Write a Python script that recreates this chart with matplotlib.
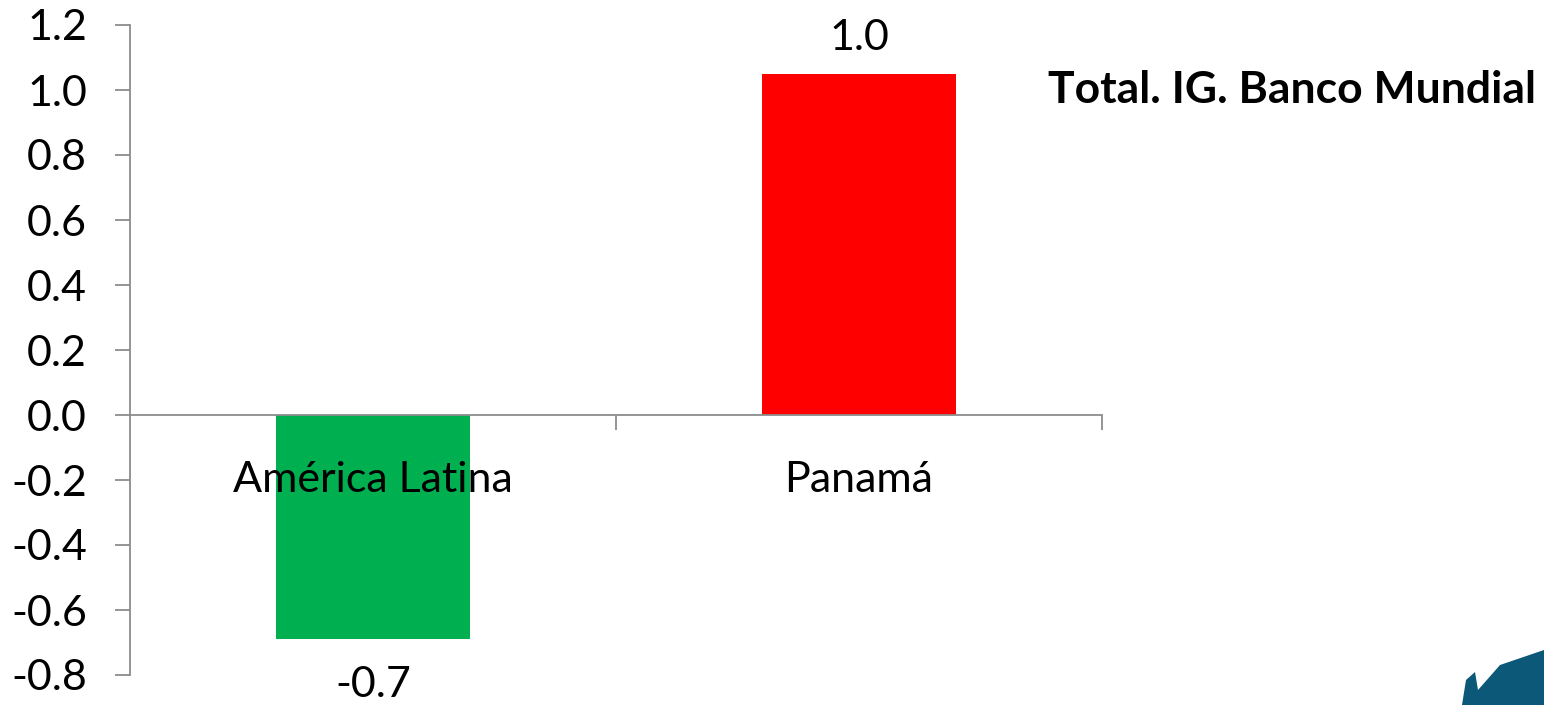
import matplotlib.pyplot as plt
from matplotlib.patches import Polygon

# data
categories = ['América Latina', 'Panamá']
values = [-0.69, 1.05]
value_labels = ['-0.7', '1.0']
colors = ['#00b050', '#ff0000']
title = 'Total. IG. Banco Mundial'

plt.rcParams['font.family'] = ['Lato', 'DejaVu Sans']

fig = plt.figure(figsize=(15.44, 7.05), dpi=100)
ax = fig.add_axes([130 / 1544, 1 - 675 / 705, (1102 - 130) / 1544, (675 - 25) / 705])

x = list(range(len(categories)))
ax.bar(x, values, width=0.4, color=colors, zorder=1)

ax.set_xlim(-0.5, len(categories) - 0.5)
ax.set_ylim(-0.8, 1.2)
ax.set_yticks([i / 10 for i in range(-8, 13, 2)])
ax.set_yticklabels([f'{i / 10:.1f}' for i in range(-8, 13, 2)])

axis_grey = '#8c8c8c'
for s in ['top', 'right']:
    ax.spines[s].set_visible(False)
ax.spines['left'].set_color(axis_grey)
ax.spines['left'].set_linewidth(1.3)
ax.spines['bottom'].set_position(('data', 0))
ax.spines['bottom'].set_color(axis_grey)
ax.spines['bottom'].set_linewidth(1.3)
ax.spines['bottom'].set_zorder(2)

ax.set_xticks([i + 0.5 for i in x])
ax.set_xticklabels([])
ax.tick_params(axis='x', direction='out', length=11, width=1.3, color=axis_grey)
ax.tick_params(axis='y', direction='out', length=11, width=1.3, color=axis_grey,
               labelsize=31, pad=20)

# category labels drawn over the bars
for xi, name in zip(x, categories):
    ax.text(xi, -0.2, name, ha='center', va='center', fontsize=31, zorder=3)

# value labels
for xi, v, lab in zip(x, values, value_labels):
    if v >= 0:
        ax.text(xi, v + 0.11, lab, ha='center', va='center', fontsize=31)
    else:
        ax.text(xi, v - 0.14, lab, ha='center', va='center', fontsize=31, clip_on=False)

fig.text(1048 / 1544, 1 - 90 / 705, title, ha='left', va='center',
         fontsize=32, fontweight='bold')

# logo fragment, bottom right corner
logo = Polygon([(1462 / 1544, 0), (1466 / 1544, 1 - 680 / 705), (1475 / 1544, 1 - 672 / 705),
                (1478 / 1544, 1 - 690 / 705), (1500 / 1544, 1 - 665 / 705),
                (1544 / 1544, 1 - 650 / 705), (1544 / 1544, 0)],
               closed=True, transform=fig.transFigure, color='#0b5878', lw=0)
fig.patches.append(logo)

fig.savefig('out.png', dpi=100)
